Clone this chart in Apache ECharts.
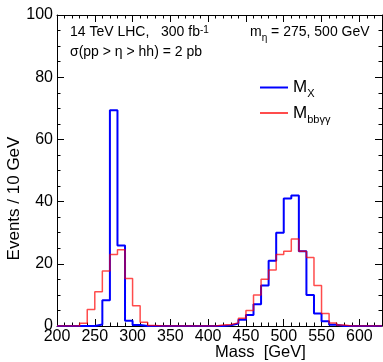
<!DOCTYPE html>
<html>
<head>
<meta charset="utf-8">
<script src="https://cdn.jsdelivr.net/npm/echarts@6/dist/echarts.min.js"></script>
<style>
  html, body { margin: 0; padding: 0; background: #fff; }
  #chart { width: 383px; height: 362px; }
</style>
</head>
<body>
<div id="chart"></div>
<script>
// histogram: 10 GeV bins starting at 200 GeV
const binStart = 200;
const binWidth = 10;
const xMin = 200;
const xMax = 630;

// M_X (blue)
const mX = [
  0, 0, 0, 0, 0, 0.5, 8.3, 69.4, 25.9, 1.7,
  0.3, 0, 0, 0, 0, 0, 0, 0, 0, 0,
  0, 0, 0.2, 0.8, 2, 3.5, 7, 13, 21, 30,
  41, 42, 24, 10, 4, 1.5, 0.4, 0, 0, 0,
  0, 0, 0
];

// M_bbyy (red)
const mBByy = [
  0, 0, 0, 0.9, 5.3, 11, 17.7, 23, 24.5, 15.3,
  6.5, 1.2, 0.2, 0, 0, 0, 0, 0, 0, 0,
  0, 0.3, 0.5, 1, 2.5, 5, 10, 15, 18, 23,
  24, 28, 24, 22, 13, 4, 1, 0.3, 0, 0,
  0, 0, 0
];

const font = "'Liberation Sans', Arial, sans-serif";
const blue = '#0000ff';
const red = 'rgba(255,0,0,0.7)';

function toSteps(vals) {
  const pts = vals.map((v, i) => [binStart + i * binWidth, v]);
  pts.push([xMax, vals[vals.length - 1]]);
  return pts;
}

const chart = echarts.init(document.getElementById('chart'), null, { renderer: 'canvas' });

const tickStyle = { color: '#000', width: 1 };
function xAx(pos, labels) {
  return {
    type: 'value', position: pos, min: xMin, max: xMax, interval: 50,
    axisLine: { onZero: false, lineStyle: tickStyle },
    axisTick: { inside: true, length: 7, lineStyle: tickStyle },
    minorTick: { show: true, splitNumber: 5, length: 3.5, lineStyle: tickStyle },
    splitLine: { show: false },
    axisLabel: { show: labels, fontSize: 16, color: '#000', fontFamily: font, margin: 3, showMaxLabel: false },
    name: labels ? 'Mass  [GeV]' : '',
    nameLocation: 'middle', nameGap: 18, nameMoveOverlap: false,
    nameTextStyle: { fontSize: 16.5, color: '#000', fontFamily: font, padding: [0, 0, 0, 82] }
  };
}
function yAx(pos, labels) {
  return {
    type: 'value', position: pos, min: 0, max: 100, interval: 20,
    axisLine: { onZero: false, lineStyle: tickStyle },
    axisTick: { inside: true, length: 7, lineStyle: tickStyle },
    minorTick: { show: true, splitNumber: 4, length: 3.5, lineStyle: tickStyle },
    splitLine: { show: false },
    axisLabel: { show: labels, fontSize: 16, color: '#000', fontFamily: font, margin: 4 },
    name: labels ? 'Events / 10 GeV' : '',
    nameLocation: 'middle', nameGap: 34, nameMoveOverlap: false,
    nameTextStyle: { fontSize: 17, color: '#000', fontFamily: font, padding: [0, 56, 0, 0] }
  };
}

const option = {
  backgroundColor: '#fff',
  animation: false,
  grid: { left: 57, right: 1, top: 15, bottom: 36, outerBoundsMode: 'none' },
  xAxis: [xAx('bottom', true), xAx('top', false)],
  yAxis: [yAx('left', true), yAx('right', false)],
  legend: {
    orient: 'vertical', left: 255, top: 74, itemWidth: 28, itemHeight: 2, itemGap: 5,
    data: [{ name: 'M_X', icon: 'rect' }, { name: 'M_bbyy', icon: 'rect' }],
    formatter: n => n === 'M_X' ? '{m|M}{s|X}' : '{m|M}{s|bbγγ}',
    textStyle: {
      color: '#000', fontFamily: font,
      rich: {
        m: { fontSize: 17, fontFamily: font, color: '#000', lineHeight: 20 },
        s: { fontSize: 11, fontFamily: font, color: '#000', verticalAlign: 'bottom', lineHeight: 24 }
      }
    }
  },
  graphic: [
    { type: 'text', left: 70, top: 25, style: { text: '14 TeV LHC,   300 fb{sup|-1}', font: '14px ' + font, fill: '#000',
      rich: { sup: { fontSize: 10, fontFamily: font, verticalAlign: 'top', lineHeight: 15 } } } },
    { type: 'text', left: 70, top: 45, style: { text: 'σ(pp > η > hh) = 2 pb', font: '14px ' + font, fill: '#000' } },
    { type: 'text', left: 250, top: 25, style: { text: 'm{sub|η} = 275, 500 GeV', font: '14px ' + font, fill: '#000',
      rich: { sub: { fontSize: 10, fontFamily: font, verticalAlign: 'bottom', lineHeight: 23 } } } }
  ],
  series: [
    {
      name: 'M_X', type: 'line', step: 'end', symbol: 'none',
      data: toSteps(mX),
      lineStyle: { color: blue, width: 2 },
      itemStyle: { color: blue }
    },
    {
      name: 'M_bbyy', type: 'line', step: 'end', symbol: 'none',
      data: toSteps(mBByy),
      lineStyle: { color: red, width: 1.5 },
      itemStyle: { color: red }
    }
  ]
};

chart.setOption(option);
</script>
</body>
</html>
